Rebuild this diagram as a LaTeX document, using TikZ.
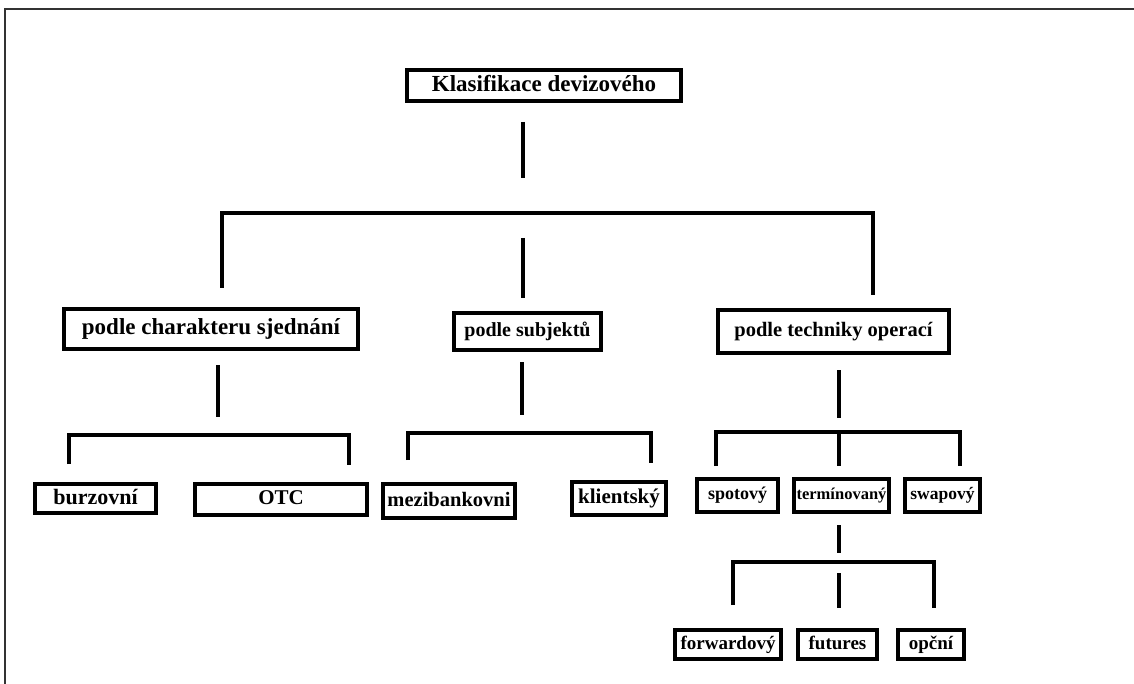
\documentclass[tikz,border=0pt]{standalone}
\usepackage{fontspec}
\setmainfont{Liberation Serif}
\usepackage{tikz}
\usetikzlibrary{positioning, calc}
\newcommand{\nodefont}[1]{\bfseries\fontsize{#1}{#1}\selectfont}

\begin{document}
\begin{tikzpicture}[x=1pt, y=-1pt,
    catbox/.style={rectangle, draw=black, fill=white, line width=4pt,
                   inner sep=0pt, align=center, text=black,
                   execute at begin node={\rule[-0.2em]{0pt}{0.9em}}},
    link/.style={line width=4pt, black}
]
    \useasboundingbox (0,0) rectangle (1134,684);
    % outer frame (top and left edges only)
    \draw[line width=2pt, black!80] (5,684) -- (5,9) -- (1134,9);

    % level 0
    \node[catbox, minimum width=274pt, minimum height=31pt,
          font=\nodefont{23}] (klas) at (544,85.5) {Klasifikace devizového};

    % level 1
    \node[catbox, minimum width=294pt, minimum height=40pt,
          font=\nodefont{23}] (char) at (211,329) {podle charakteru sjednání};
    \node[catbox, minimum width=147pt, minimum height=37pt,
          font=\nodefont{20}] (subj) at (527.5,331.5) {podle subjektů};
    \node[catbox, minimum width=231pt, minimum height=43pt,
          font=\nodefont{20.5}] (tech) at (833.5,331.5) {podle techniky operací};

    % level 2
    \node[catbox, minimum width=121pt, minimum height=29pt,
          font=\nodefont{22}] (burz) at (95.5,498.5) {burzovní};
    \node[catbox, minimum width=172pt, minimum height=31pt,
          font=\nodefont{21}] (otc) at (281,499.5) {OTC};
    \node[catbox, minimum width=132pt, minimum height=34pt,
          font=\nodefont{20.5}] (mezi) at (449,501) {mezibankovni};
    \node[catbox, minimum width=94pt, minimum height=33pt,
          font=\nodefont{21}] (klient) at (619,498.5) {klientský};
    \node[catbox, minimum width=81pt, minimum height=33pt,
          font=\nodefont{18}] (spot) at (737.5,495.5) {spotový};
    \node[catbox, minimum width=95pt, minimum height=33pt,
          font=\nodefont{16.5}] (term) at (841.5,495.5) {termínovaný};
    \node[catbox, minimum width=75pt, minimum height=33pt,
          font=\nodefont{17.5}] (swap) at (942.5,495.5) {swapový};

    % level 3
    \node[catbox, minimum width=106pt, minimum height=29pt,
          font=\nodefont{19}] (forw) at (728,644.5) {forwardový};
    \node[catbox, minimum width=79pt, minimum height=29pt,
          font=\nodefont{19}] (fut) at (837.5,644.5) {futures};
    \node[catbox, minimum width=66pt, minimum height=29pt,
          font=\nodefont{19}] (opc) at (931,644.5) {opční};

    % hubs and bar ends
    \coordinate (h0) at (523,213);
    \coordinate (b1l) at (222,213);
    \coordinate (b1r) at (873,213);
    \coordinate (h1) at (218,435);
    \coordinate (b2l) at (69,435);
    \coordinate (b2r) at (349,435);
    \coordinate (h2) at (522,433);
    \coordinate (b3l) at (408,433);
    \coordinate (b3r) at (651,433);
    \coordinate (h3) at (839,432);
    \coordinate (b4l) at (716,432);
    \coordinate (b4r) at (960,432);
    \coordinate (h4) at (839,562);
    \coordinate (b5l) at (733,562);
    \coordinate (b5r) at (934,562);

    % connectors
    \draw[link, shorten <=19pt, shorten >=35pt] (klas.south -| h0) -- (h0);
    \draw[link, shorten <=19pt, shorten >=13pt]
        (b1l |- char.north) -- (b1l) -- (b1r) -- (b1r |- tech.north);
    \draw[link, shorten <=25pt, shorten >=13pt] (h0) -- (h0 |- subj.north);

    \draw[link, shorten <=14pt, shorten >=18pt] (char.south -| h1) -- (h1);
    \draw[link, shorten <=18pt, shorten >=17pt]
        (b2l |- burz.north) -- (b2l) -- (b2r) -- (b2r |- otc.north);

    \draw[link, shorten <=10pt, shorten >=18pt] (subj.south -| h2) -- (h2);
    \draw[link, shorten <=22pt, shorten >=17pt]
        (b3l |- mezi.north) -- (b3l) -- (b3r) -- (b3r |- klient.north);

    \draw[link, shorten <=15pt, shorten >=14pt] (tech.south -| h3) -- (h3);
    \draw[link, shorten <=11pt, shorten >=11pt]
        (b4l |- spot.north) -- (b4l) -- (b4r) -- (b4r |- swap.north);
    \draw[link, shorten >=11pt] (h3) -- (h3 |- term.north);

    \draw[link, shorten <=11pt, shorten >=9pt] (term.south -| h4) -- (h4);
    \draw[link, shorten <=23pt, shorten >=20pt]
        (b5l |- forw.north) -- (b5l) -- (b5r) -- (b5r |- opc.north);
    \draw[link, shorten <=11pt, shorten >=20pt] (h4) -- (h4 |- fut.north);
\end{tikzpicture}
\end{document}
